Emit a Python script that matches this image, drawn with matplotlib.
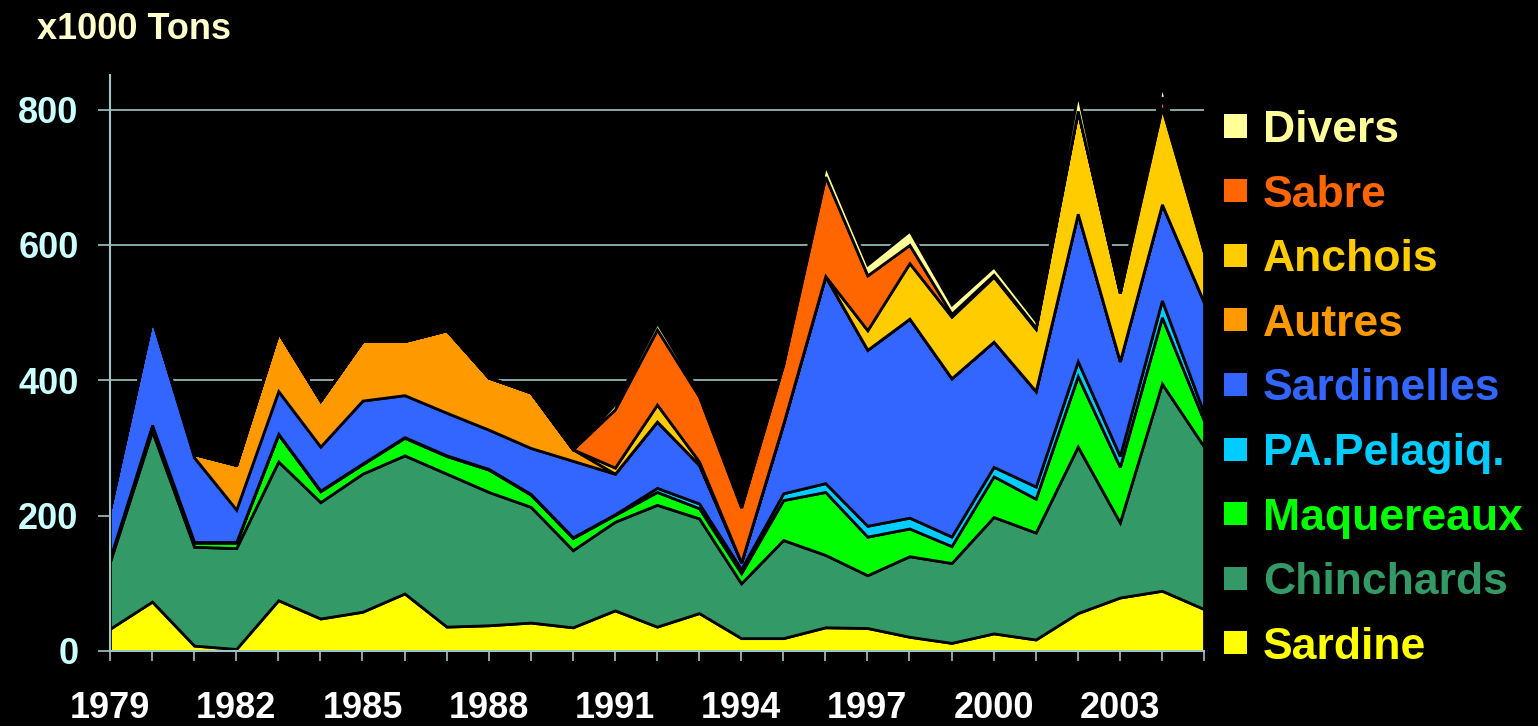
import matplotlib
matplotlib.use('Agg')
import matplotlib.pyplot as plt
from matplotlib.patches import Rectangle

years = list(range(1979, 2006))

sardine = [33, 73, 8, 3, 75, 48, 58, 85, 36, 38, 42, 35, 60, 36, 56, 19, 19, 35, 34, 21, 12, 26, 17, 56, 79, 89, 62]
chinchards = [99, 252, 146, 149, 205, 172, 204, 204, 226, 197, 171, 114, 131, 180, 140, 81, 145, 107, 78, 119, 118, 172, 158, 246, 111, 306, 240]
maquereaux = [4, 8, 6, 8, 40, 16, 14, 26, 26, 33, 18, 18, 10, 19, 15, 15, 59, 93, 57, 41, 25, 60, 50, 104, 82, 98, 38]
pa_pelagiq = [1, 1, 1, 1, 1, 1, 1, 1, 1, 1, 1, 1, 1, 6, 7, 6, 10, 13, 16, 16, 14, 14, 18, 22, 16, 25, 11]
sardinelles = [73, 157, 125, 48, 63, 65, 93, 62, 63, 58, 68, 113, 60, 98, 57, 10, 103, 306, 260, 294, 234, 185, 141, 218, 140, 142, 164]
autres = [0, 0, 5, 66, 87, 68, 88, 80, 122, 77, 82, 17, 0, 0, 0, 0, 0, 0, 0, 0, 0, 0, 0, 0, 0, 0, 0]
anchois = [0, 0, 0, 0, 0, 0, 0, 0, 0, 0, 0, 0, 9, 25, 5, 0, 0, 0, 29, 82, 91, 96, 92, 152, 101, 143, 74]
sabre = [0, 0, 0, 0, 0, 0, 0, 0, 0, 0, 0, 0, 86, 111, 96, 81, 87, 147, 81, 27, 4, 3, 2, 0, 0, 16, 0]
divers = [0, 0, 0, 0, 0, 0, 0, 0, 0, 0, 0, 0, 8, 10, 6, 2, 2, 17, 16, 21, 14, 12, 10, 26, 3, 17, 1]

series_names = ['Sardine', 'Chinchards', 'Maquereaux', 'PA.Pelagiq.', 'Sardinelles',
                'Autres', 'Anchois', 'Sabre', 'Divers']
series_data = [sardine, chinchards, maquereaux, pa_pelagiq, sardinelles,
               autres, anchois, sabre, divers]
colors = ['#FFFF00', '#339966', '#00FF00', '#00CCFF', '#3366FF',
          '#FF9900', '#FFCC00', '#FF6600', '#FFFF99']

y_ticks = [0, 200, 400, 600, 800]
x_label_years = [1979, 1982, 1985, 1988, 1991, 1994, 1997, 2000, 2003]

plt.rcParams['font.family'] = ['Liberation Sans', 'DejaVu Sans']
plt.rcParams['font.weight'] = 'bold'

W, H = 1538, 726
fig = plt.figure(figsize=(W / 100, H / 100), dpi=100, facecolor='black')
ax = fig.add_axes([110 / W, 75 / H, (1204 - 110) / W, (651 - 75) / H])
ax.set_facecolor('black')

grid_col = '#A0C4C4'
polys = ax.stackplot(years, *series_data, colors=colors, edgecolor='black',
                     linewidth=2.0, zorder=2)
for p in polys:
    p.set_joinstyle('miter')

ax.set_xlim(1979, 2005)
ax.set_ylim(0, 851)
ax.set_yticks(y_ticks)
ax.set_yticklabels([str(v) for v in y_ticks])
ax.yaxis.grid(True, color=grid_col, linewidth=1.2, zorder=0)
ax.set_axisbelow(True)
ax.set_xticks(years)
ax.set_xticklabels([str(y) if y in x_label_years else '' for y in years])

for s in ['top', 'right']:
    ax.spines[s].set_visible(False)
for s in ['left', 'bottom']:
    ax.spines[s].set_color(grid_col)
    ax.spines[s].set_linewidth(1.5)
    ax.spines[s].set_zorder(3)

ax.tick_params(axis='x', colors=grid_col, length=7, width=1.2, pad=22,
               labelcolor='white', labelsize=26)
ax.tick_params(axis='y', colors=grid_col, length=8.6, width=1.2, pad=14,
               labelcolor='#CCFFFF', labelsize=26)
for lab in ax.get_xticklabels() + ax.get_yticklabels():
    lab.set_fontweight('bold')

fig.text(37 / W, 1 - 39 / H, 'x1000 Tons', color='#FFFFCC', fontsize=26,
         fontweight='bold', ha='left', va='baseline')

# legend (top entry is the last series)
for i, (name, col) in enumerate(zip(series_names[::-1], colors[::-1])):
    yc = 126 + i * 64.6
    fig.patches.append(Rectangle((1224 / W, 1 - (yc + 11.5) / H), 23 / W, 23 / H,
                                 transform=fig.transFigure, facecolor=col,
                                 edgecolor='none'))
    fig.text(1263 / W, 1 - (yc + 16) / H, name, color=col, fontsize=32,
             fontweight='bold', ha='left', va='baseline')

fig.savefig('out.png', dpi=100, facecolor='black')
